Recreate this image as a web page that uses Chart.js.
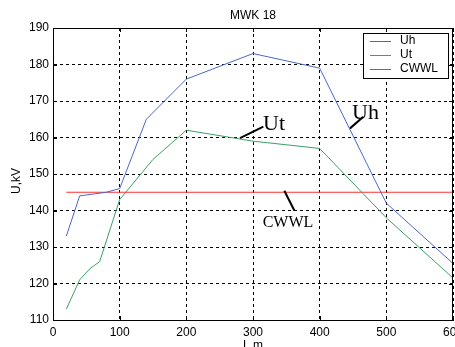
<!DOCTYPE html>
<html><head><meta charset="utf-8">
<script src="https://cdn.jsdelivr.net/npm/chart.js@4/dist/chart.umd.min.js"></script>
<style>html,body{margin:0;padding:0;background:#fff;overflow:hidden}canvas{display:block}</style>
</head><body><canvas id="c" width="455" height="347"></canvas>
<script>
// ---- data ----
const uhL = [20, 40, 80, 100, 140, 200, 300, 400, 500, 600];
const uhV = [133, 144, 145, 146, 165, 176, 183, 179, 142, 125.5];
const utL = [20, 40, 55, 70, 100, 150, 200, 300, 400, 500, 600];
const utV = [113, 121, 124, 126, 143, 154, 162, 159, 157, 138, 121.5];
const cwwlL = [20, 600];
const cwwlV = [145, 145];
const xTicks = [0, 100, 200, 300, 400, 500, 600];
const yTicks = [110, 120, 130, 140, 150, 160, 170, 180, 190];
const seriesNames = ['Uh', 'Ut', 'CWWL'];
const titleText = 'MWK 18';
const xTitle = 'L,m';
const yTitle = 'U,kV';
// text annotations (data coordinates): label, text anchor, pointer line
const notes = [
  {text: 'Ut', at: [315, 162.1], from: [280.5, 159.8], to: [315.5, 163], size: 22},
  {text: 'Uh', at: [448.5, 165.1], from: [445.5, 162.5], to: [465.5, 165.7], size: 22},
  {text: 'CWWL', at: [314.5, 135.4], from: [347, 145.4], to: [362, 140], size: 16}
];

const colors = ['#4a68c8', '#3d9e66', '#ff3030'];
const pts = (xs, ys) => xs.map((x, i) => ({x, y: ys[i]}));

const SANS = '"Liberation Sans", Arial, sans-serif';
const SERIF = '"Liberation Serif", "Times New Roman", serif';

const deco = {
  id: 'deco',
  afterDatasetsDraw(chart) {
    const {ctx, chartArea: a, scales} = chart;
    const xs = scales.x, ys = scales.y;
    ctx.save();
    ctx.setLineDash([]);
    // box
    ctx.strokeStyle = '#000'; ctx.lineWidth = 1;
    ctx.strokeRect(Math.round(a.left) + 0.5, Math.round(a.top) + 0.5,
      Math.round(a.right - a.left) - 1, Math.round(a.bottom - a.top));
    // inward ticks
    ctx.beginPath();
    xTicks.forEach(v => {
      const px = Math.round(xs.getPixelForValue(v)) + 0.5;
      ctx.moveTo(px, a.bottom); ctx.lineTo(px, a.bottom - 4);
      ctx.moveTo(px, a.top); ctx.lineTo(px, a.top + 4);
    });
    yTicks.forEach(v => {
      const py = Math.round(ys.getPixelForValue(v)) + 0.5;
      ctx.moveTo(a.left, py); ctx.lineTo(a.left + 4, py);
      ctx.moveTo(a.right, py); ctx.lineTo(a.right - 4, py);
    });
    ctx.stroke();
    // annotations
    notes.forEach(n => {
      ctx.strokeStyle = '#000'; ctx.lineWidth = 2;
      ctx.beginPath();
      ctx.moveTo(xs.getPixelForValue(n.from[0]), ys.getPixelForValue(n.from[1]));
      ctx.lineTo(xs.getPixelForValue(n.to[0]), ys.getPixelForValue(n.to[1]));
      ctx.stroke();
      ctx.fillStyle = '#000';
      ctx.font = n.size + 'px ' + SERIF;
      ctx.textAlign = 'left'; ctx.textBaseline = 'alphabetic';
      ctx.fillText(n.text, xs.getPixelForValue(n.at[0]), ys.getPixelForValue(n.at[1]));
    });
    // legend
    const lx = 363.5, ly = 33.5, lw = 85, lh = 45;
    ctx.fillStyle = '#fff';
    ctx.fillRect(lx, ly, lw, lh);
    ctx.strokeStyle = '#000'; ctx.lineWidth = 1;
    ctx.strokeRect(lx, ly, lw, lh);
    ctx.font = '12px ' + SANS;
    ctx.textBaseline = 'middle'; ctx.textAlign = 'left';
    seriesNames.forEach((name, i) => {
      const y = 41 + i * 14;
      ctx.fillStyle = colors[i];
      ctx.fillRect(370, y, 21, 1);
      ctx.fillStyle = '#000';
      ctx.fillText(name, 400, y);
    });
    // titles
    ctx.fillStyle = '#000';
    ctx.font = '12px ' + SANS;
    ctx.textAlign = 'center'; ctx.textBaseline = 'middle';
    ctx.fillText(titleText, (a.left + a.right) / 2, 16);
    ctx.textBaseline = 'top';
    ctx.fillText(xTitle, (a.left + a.right) / 2, 340);
    ctx.translate(17, 181);
    ctx.rotate(-Math.PI / 2);
    ctx.textBaseline = 'middle';
    ctx.fillText(yTitle, 0, 0);
    ctx.restore();
  }
};

new Chart(document.getElementById('c'), {
  type: 'line',
  data: {
    datasets: [
      {label: seriesNames[0], data: pts(uhL, uhV), borderColor: colors[0]},
      {label: seriesNames[1], data: pts(utL, utV), borderColor: colors[1]},
      {label: seriesNames[2], data: pts(cwwlL, cwwlV), borderColor: colors[2]}
    ]
  },
  options: {
    responsive: false,
    animation: false,
    devicePixelRatio: 1,
    layout: {padding: {top: 28, right: 2, left: 0, bottom: 0}},
    elements: {
      line: {borderWidth: 1, tension: 0, fill: false},
      point: {radius: 0, hoverRadius: 0}
    },
    plugins: {legend: {display: false}, title: {display: false}, tooltip: {enabled: false}},
    scales: {
      x: {
        type: 'linear', min: 0, max: 600,
        afterBuildTicks: s => { s.ticks = xTicks.map(v => ({value: v})); },
        afterFit: s => { s.height = 27; s.paddingLeft = 0; s.paddingRight = 0; },
        grid: {color: '#000', lineWidth: 1, drawTicks: false},
        border: {display: true, color: '#000', dash: [3, 3]},
        ticks: {padding: 5, color: '#000', font: {family: SANS, size: 12}, maxRotation: 0, autoSkip: false}
      },
      y: {
        type: 'linear', min: 110, max: 190,
        afterBuildTicks: s => { s.ticks = yTicks.map(v => ({value: v})); },
        afterFit: s => { s.width = 53; },
        grid: {color: '#000', lineWidth: 1, drawTicks: false},
        border: {display: true, color: '#000', dash: [3, 3]},
        ticks: {padding: 4, color: '#000', font: {family: SANS, size: 12}, autoSkip: false}
      }
    }
  },
  plugins: [deco]
});
</script>
</body></html>
